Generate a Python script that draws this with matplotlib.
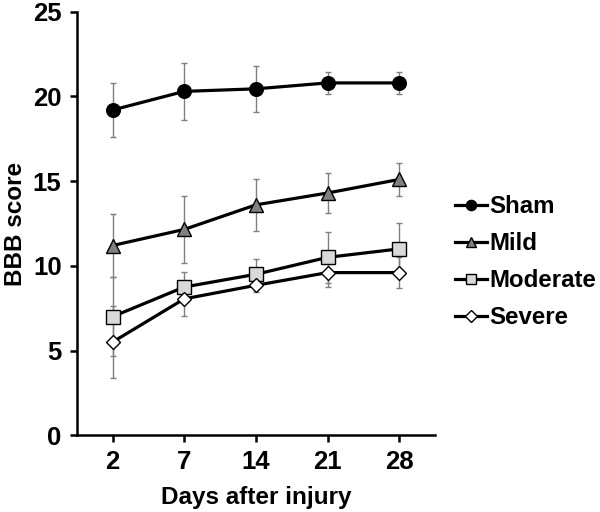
import matplotlib
matplotlib.use("Agg")
import matplotlib.pyplot as plt
import numpy as np

plt.rcParams['font.family'] = ['Liberation Sans', 'DejaVu Sans']
plt.rcParams['font.weight'] = 'bold'

days = ["2", "7", "14", "21", "28"]
sham = [19.2, 20.3, 20.45, 20.8, 20.8]
sham_err = [1.6, 1.7, 1.35, 0.65, 0.65]
mild = [11.2, 12.15, 13.6, 14.3, 15.1]
mild_err = [1.85, 2.0, 1.55, 1.2, 1.0]
moderate = [7.0, 8.75, 9.5, 10.5, 11.0]
moderate_err = [2.35, 0.9, 0.9, 1.5, 1.5]
severe = [5.5, 8.05, 8.85, 9.6, 9.6]
severe_err = [2.1, 1.0, 0.4, 0.85, 0.9]

fig = plt.figure(figsize=(6.0, 5.12), dpi=100)
ax = fig.add_axes([0.128, 0.150, 0.597, 0.827])
x = np.arange(len(days))

series = [
    ("Sham", sham, sham_err, 'o', 'black', 9.8),
    ("Mild", mild, mild_err, '^', '#808080', 10.5),
    ("Moderate", moderate, moderate_err, 's', '#d9d9d9', 9.5),
    ("Severe", severe, severe_err, 'D', 'white', 7.5),
]
for name, vals, err, m, fc, ms in series:
    ax.errorbar(x, vals, yerr=err, fmt='none', ecolor='#7f7f7f', elinewidth=1.0,
                capsize=2.5, capthick=1.0, zorder=2)
for name, vals, err, m, fc, ms in series:
    ax.plot(x, vals, color='black', lw=2.3, marker=m, markersize=ms,
            markerfacecolor=fc, markeredgecolor='black', markeredgewidth=1.0,
            label=name, zorder=3)

ax.set_xlim(-0.5, 4.5)
ax.set_ylim(0, 25)
ax.set_yticks([0, 5, 10, 15, 20, 25])
ax.set_xticks(x)
ax.set_xticklabels(days)
for s in ['top', 'right']:
    ax.spines[s].set_visible(False)
for s in ['left', 'bottom']:
    ax.spines[s].set_linewidth(1.8)
ax.tick_params(axis='both', direction='out', length=5, width=1.8, labelsize=18.5, pad=6)
for lab in ax.get_xticklabels() + ax.get_yticklabels():
    lab.set_fontweight('bold')
ax.set_xlabel("Days after injury", fontsize=17.5, fontweight='bold', labelpad=8.5)
ax.set_ylabel("BBB score", fontsize=17.5, fontweight='bold')
ax.yaxis.set_label_coords(-0.14, 0.5)

leg = fig.legend(loc='upper left', bbox_to_anchor=(0.758, 0.619), frameon=False,
                 borderaxespad=0, borderpad=0,
                 handlelength=1.35, handletextpad=0.1, labelspacing=0.585,
                 prop={'size': 17.3, 'weight': 'bold'}, markerscale=0.75)

fig.savefig("out.png", dpi=100)
